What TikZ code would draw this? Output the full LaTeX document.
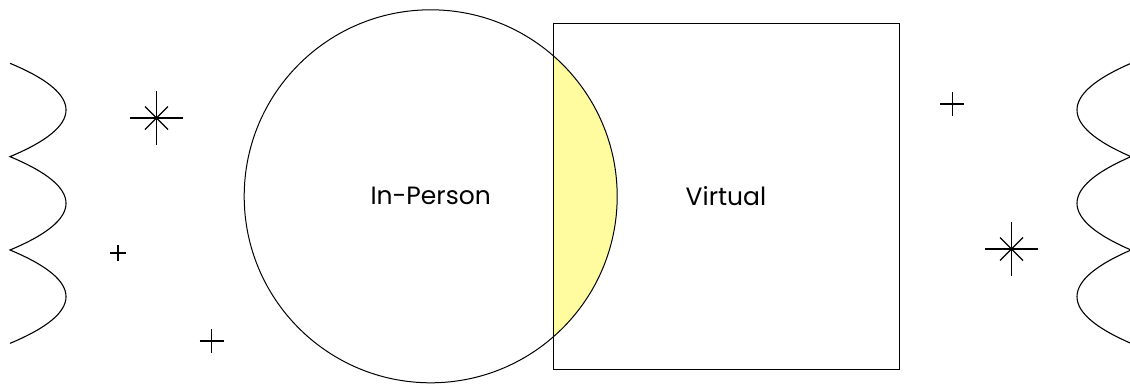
\documentclass[tikz,border=0pt]{standalone}
\usepackage{fontspec}
\setmainfont{Poppins}
\usepackage{xcolor}
\usetikzlibrary{backgrounds}
\definecolor{lensyellow}{RGB}{255,252,160}

\begin{document}
\begin{tikzpicture}[
  x=1pt, y=-1pt,
  venn/.style={draw, line width=1pt, inner sep=0pt,
               font=\fontsize{25}{29}\selectfont},
  venn circle/.style={venn, circle, minimum size=373pt},
  venn square/.style={venn, rectangle, minimum width=346pt, minimum height=346pt},
  deco/.style={line width=1.1pt}
]
\useasboundingbox (0,0) rectangle (1130,383);
\node[venn circle] (inperson) at (430.7,196.3) {In-Person};
\node[venn square] (virtual)  at (726,196)     {Virtual};
% overlap of the two sets
\begin{scope}[on background layer]
  \clip (virtual.south west) rectangle (virtual.north east);
  \fill[lensyellow] (inperson.center) circle[radius=186.5];
\end{scope}
% wavy edges
\draw[deco] (10,63.3) \foreach \y in {63.3,156.65,250}
  { .. controls (84.7,\y+31.1) and (84.7,\y+62.2) .. (10,\y+93.35) };
\draw[deco] (1131,63.3) \foreach \y in {63.3,156.65,250}
  { .. controls (1059,\y+31.1) and (1059,\y+62.2) .. (1131,\y+93.35) };
% stars
\foreach \cx/\cy in {156.5/118, 1011.5/249} {
  \draw[deco] (\cx,\cy-27) -- (\cx,\cy+27);
  \draw[deco] (\cx-26.5,\cy) -- (\cx+26.5,\cy);
  \draw[deco] (\cx-11.5,\cy-11.5) -- (\cx+11.5,\cy+11.5);
  \draw[deco] (\cx-11.5,\cy+11.5) -- (\cx+11.5,\cy-11.5);
}
% plus signs
\foreach \cx/\cy/\r in {118/253/8, 211.7/341/12, 952.3/104/12} {
  \draw[deco] (\cx,\cy-\r) -- (\cx,\cy+\r);
  \draw[deco] (\cx-\r,\cy) -- (\cx+\r,\cy);
}
\end{tikzpicture}
\end{document}
